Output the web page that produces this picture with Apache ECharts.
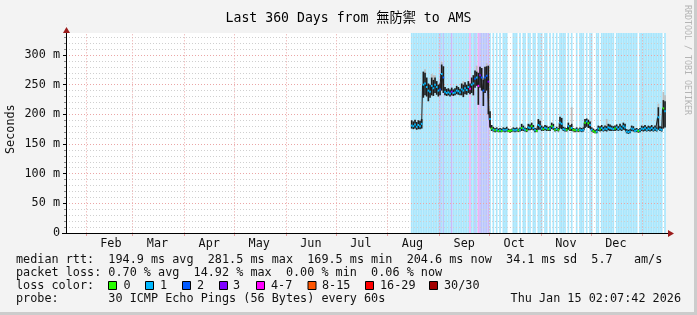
<!DOCTYPE html>
<html><head><meta charset="utf-8">
<script src="https://cdn.jsdelivr.net/npm/echarts@6/dist/echarts.min.js"></script>
<style>html,body{margin:0;padding:0;background:#f3f3f3}#c{width:697px;height:315px}</style>
</head><body><div id="c"></div>
<script>
// ---------- data ----------
const chartTitle = 'Last 360 Days from 無防禦 to AMS';
const rangeStart = [2025, 0, 20, 2, 7, 42];
const rangeEnd = [2026, 0, 15, 2, 7, 42];
const dataStartDay = [2025, 7, 15]; // first day with measurements (Aug 15)
const monthNames = ['Jan','Feb','Mar','Apr','May','Jun','Jul','Aug','Sep','Oct','Nov','Dec'];

// daily median rtt (ms)
const median = [
 181,180,183,179,182,180,184,250,252,246,
 240,238,248,244,250,246,240,242,268,262,
 238,236,237,235,238,236,237,240,239,237,
 242,240,244,241,246,243,250,252,260,262,
 248,266,262,240,262,265,255,192,176,174,
 173,174,172,173,172,174,173,174,172,172,
 173,174,173,174,173,174,177,176,174,173,
 178,177,180,177,173,172,182,180,176,175,
 177,176,175,176,180,178,174,175,174,186,
 184,175,174,174,180,176,177,174,173,174,
 173,174,173,174,186,188,185,182,174,172,
 170,171,176,175,177,174,176,175,178,177,
 176,175,176,178,175,178,176,180,178,171,
 170,171,176,175,172,173,172,173,176,175,
 177,174,176,175,177,174,176,174,195,175,
 174,210,205];
// dense smoke band (ms)
const smokeLo = [
 176,175,176,174,175,175,176,228,232,230,
 222,228,232,231,236,233,230,232,240,236,
 232,231,232,230,232,231,232,234,233,232,
 232,229,234,233,236,234,236,232,245,248,
 216,245,240,214,236,240,200,178,172,171,
 170,171,170,170,170,171,170,171,170,169,
 170,171,170,171,170,171,172,172,171,170,
 173,173,174,173,170,170,174,174,172,172,
 173,172,172,172,175,174,171,172,171,176,
 175,172,171,171,174,172,172,171,170,171,
 170,171,170,171,177,179,177,176,171,169,
 168,168,172,171,172,171,172,171,173,172,
 172,172,172,173,172,173,172,174,173,168,
 167,168,172,171,170,170,169,170,172,171,
 172,171,172,171,172,171,172,171,174,172,
 171,176,178];
const smokeHi = [
 190,188,191,187,190,189,192,272,270,262,
 252,250,262,258,262,256,250,252,284,281,
 246,243,244,242,245,242,244,248,246,243,
 252,250,254,250,256,252,262,266,274,272,
 270,280,278,258,280,281,282,205,182,179,
 177,178,176,177,176,178,177,179,176,175,
 176,178,177,178,176,178,184,181,178,177,
 184,183,186,182,177,176,192,189,181,179,
 182,181,179,180,186,184,177,179,177,196,
 194,179,178,177,186,182,184,177,176,178,
 176,178,177,178,192,193,191,188,178,176,
 174,175,181,180,182,179,181,180,184,183,
 181,180,181,183,180,184,181,186,184,175,
 174,175,181,180,176,177,175,177,181,180,
 182,179,181,180,182,179,181,178,212,180,
 179,224,222];
// loss class per day (index into lossLabels)
const lossClass = [
 1,1,1,1,1,1,1,1,1,1,
 1,1,1,1,1,1,1,2,1,2,
 1,1,1,1,3,1,1,1,1,1,
 1,1,1,1,1,4,1,1,2,1,
 4,3,2,2,2,2,3,1,0,1,
 0,1,0,1,0,1,1,1,0,0,
 0,1,1,1,0,1,0,1,1,0,
 1,1,0,1,1,0,1,1,1,0,
 1,1,0,1,0,1,0,1,0,1,
 1,1,1,0,1,0,1,0,0,1,
 0,1,1,1,0,1,0,1,1,0,
 0,1,1,0,1,1,1,1,1,1,
 1,1,0,1,1,1,1,1,1,1,
 1,1,1,1,1,1,0,1,1,1,
 1,1,1,1,1,1,1,1,1,1,
 1,0,1];
// sparse light smoke spikes: [day index, top ms]
const lightSmoke = [[8,276],[12,268],[13,266],[14,266],[18,288],[31,256],[39,282],[45,286],[96,212],[117,192],[148,218],[151,238],[152,232]];

const lossLabels = ['0','1','2','3','4-7','8-15','16-29','30/30'];
const lossColors = ['#26ff00','#00b8ff','#0059ff','#7e00ff','#ff00ff','#ff5500','#ff0000','#a10000'];
const lossBgColors = ['#ffffff','#aae6fc','#b9c6fb','#cbb8fa','#f2b0f4','#ffc8aa','#ffaaaa','#e0aaaa'];

const statsLine = 'median rtt:  194.9 ms avg  281.5 ms max  169.5 ms min  204.6 ms now  34.1 ms sd  5.7   am/s';
const lossLine = 'packet loss: 0.70 % avg  14.92 % max  0.00 % min  0.06 % now';
const probeLine = 'probe:       30 ICMP Echo Pings (56 Bytes) every 60s';
const stampText = 'Thu Jan 15 02:07:42 2026';

// ---------- build ----------
const FONT = "'DejaVu Sans Mono', 'Noto Sans CJK TC', monospace";
const tMin = new Date(...rangeStart).getTime();
const tMax = new Date(...rangeEnd).getTime();
function dayStart(i) { return new Date(dataStartDay[0], dataStartDay[1], dataStartDay[2] + i).getTime(); }

const dayItems = median.map((m, i) => [dayStart(i), dayStart(i + 1), smokeLo[i], smokeHi[i], m, lossClass[i]]);
const lightItems = lightSmoke.map(([i, top]) => [dayStart(i), dayStart(i + 1), smokeHi[i], top]);
const medianLine = median.map((m, i) => [(dayStart(i) + dayStart(i + 1)) / 2, m]);

function clipRect(params, api, t0, t1, v0, v1) {
  const a = api.coord([t0, v0]), b = api.coord([t1, v1]);
  const cs = params.coordSys;
  return echarts.graphic.clipRectByRect(
    { x: a[0], y: Math.min(a[1], b[1]), width: b[0] - a[0], height: Math.abs(a[1] - b[1]) },
    { x: cs.x, y: cs.y, width: cs.width, height: cs.height });
}

const chart = echarts.init(document.getElementById('c'), null, { renderer: 'canvas' });

const legendGraphics = [];
const textStyleBase = { font: '11.8px ' + FONT, fill: '#111', textVerticalAlign: 'middle' };
legendGraphics.push({ type: 'text', x: 16, y: 259.5, style: Object.assign({ text: statsLine }, textStyleBase) });
legendGraphics.push({ type: 'text', x: 16, y: 272.5, style: Object.assign({ text: lossLine }, textStyleBase) });
legendGraphics.push({ type: 'text', x: 16, y: 286, style: Object.assign({ text: 'loss color:' }, textStyleBase) });
legendGraphics.push({ type: 'text', x: 16, y: 299, style: Object.assign({ text: probeLine }, textStyleBase) });
legendGraphics.push({ type: 'text', x: 681, y: 299, style: Object.assign({ text: stampText, textAlign: 'right' }, textStyleBase) });
const boxX = [108, 145, 182, 219, 256, 307.5, 365, 429];
const labX = [123.5, 160, 197, 233, 271, 322, 380, 444];
lossLabels.forEach((lab, i) => {
  legendGraphics.push({ type: 'rect', shape: { x: boxX[i] + 0.5, y: 281.5, width: 8, height: 8 }, style: { fill: lossColors[i], stroke: '#000', lineWidth: 1 } });
  legendGraphics.push({ type: 'text', x: labX[i], y: 286, style: Object.assign({ text: lab }, textStyleBase) });
});

const option = {
  animation: false,
  backgroundColor: '#f3f3f3',
  title: { text: chartTitle, left: 'center', top: 7, textStyle: { fontFamily: FONT, fontSize: 13.2, fontWeight: 'normal', color: '#000' } },
  grid: { left: 66, right: 31, top: 25.33, bottom: 82, containLabel: false, outerBoundsMode: 'none' },
  xAxis: {
    type: 'time', min: tMin, max: tMax, splitNumber: 12,
    minInterval: 28 * 864e5, maxInterval: 31 * 864e5,
    axisLine: { lineStyle: { color: '#000', width: 1 } },
    axisTick: { show: true, length: 3, lineStyle: { color: '#e8a0a0' } },
    splitLine: { show: true, showMinLine: false, showMaxLine: false, lineStyle: { color: '#eba6a6', type: [1, 2], width: 1 } },
    axisLabel: {
      margin: 5, fontFamily: FONT, fontSize: 11.8, color: '#111', align: 'center', padding: [0, 0, 0, 50],
      showMinLabel: false, showMaxLabel: false, hideOverlap: false,
      formatter: function (v) { const d = new Date(v); if (d.getDate() !== 1 || d.getHours() !== 0) return ''; const m = d.getMonth(); return m === 0 ? '' : monthNames[m]; }
    }
  },
  yAxis: {
    type: 'value', min: 0, max: 350, interval: 50,
    name: 'Seconds', nameLocation: 'middle', nameRotate: 90, nameGap: 49, nameMoveOverlap: false,
    nameTextStyle: { fontFamily: FONT, fontSize: 11.8, color: '#111' },
    axisLine: { show: true, lineStyle: { color: '#000' } },
    axisTick: { show: true, length: 3, lineStyle: { color: '#000' } },
    minorTick: { show: true, splitNumber: 5, length: 2, lineStyle: { color: '#888' } },
    splitLine: { show: true, lineStyle: { color: '#eba6a6', type: [1, 2] } },
    minorSplitLine: { show: true, lineStyle: { color: '#cfcfcf', type: [1, 2] } },
    axisLabel: { margin: 6, fontFamily: FONT, fontSize: 11.8, color: '#111', showMaxLabel: false,
      formatter: v => v === 0 ? '0' : v + ' m' }
  },
  series: [
    { type: 'custom', name: 'lossbg', z: -5, silent: true, data: dayItems,
      renderItem: function (params, api) {
        const c = api.value(5);
        if (!c) return null;
        const r = clipRect(params, api, api.value(0), api.value(1), 0, 350);
        return r && { type: 'rect', shape: r, style: { fill: lossBgColors[c] } };
      } },
    { type: 'custom', name: 'lightsmoke', z: 3, silent: true, data: lightItems,
      renderItem: function (params, api) {
        const r = clipRect(params, api, api.value(0), api.value(1), api.value(2), api.value(3));
        return r && { type: 'rect', shape: r, style: { fill: '#bdbdbd' } };
      } },
    { type: 'custom', name: 'smoke', z: 4, silent: true, data: dayItems,
      renderItem: function (params, api) {
        const r = clipRect(params, api, api.value(0), api.value(1), api.value(2), api.value(3));
        return r && { type: 'rect', shape: r, style: { fill: '#1c1c1c' } };
      } },
    { type: 'line', name: 'median', z: 5, silent: true, data: medianLine, step: 'middle', showSymbol: false,
      lineStyle: { color: '#1c1c1c', width: 1 } },
    { type: 'custom', name: 'mediancolor', z: 6, silent: true, data: dayItems,
      renderItem: function (params, api) {
        const a = api.coord([api.value(0), api.value(4)]), b = api.coord([api.value(1), api.value(4)]);
        const cs = params.coordSys;
        const r = echarts.graphic.clipRectByRect({ x: a[0], y: a[1] - 1, width: b[0] - a[0], height: 2 },
          { x: cs.x, y: cs.y, width: cs.width, height: cs.height });
        return r && { type: 'rect', shape: r, style: { fill: lossColors[api.value(5)] } };
      } }
  ],
  graphic: [
    { type: 'rect', z: -10, silent: true, shape: { x: 66, y: 33, width: 600, height: 200 }, style: { fill: '#ffffff' } },
    { type: 'rect', z: 50, silent: true, shape: { x: 60, y: 25, width: 615, height: 8 }, style: { fill: '#f3f3f3' } },
    { type: 'line', z: 51, silent: true, shape: { x1: 66.5, y1: 33, x2: 66.5, y2: 30 }, style: { stroke: '#000', lineWidth: 1 } },
    { type: 'polygon', z: 52, silent: true, shape: { points: [[63, 33], [70, 33], [66.5, 27]] }, style: { fill: '#9b1c1c' } },
    { type: 'line', z: 51, silent: true, shape: { x1: 62, y1: 233.5, x2: 669, y2: 233.5 }, style: { stroke: '#000', lineWidth: 1 } },
    { type: 'polygon', z: 52, silent: true, shape: { points: [[668, 230], [668, 237], [674, 233.5]] }, style: { fill: '#9b1c1c' } },
    { type: 'text', z: 52, silent: true, x: 691, y: 5, rotation: -Math.PI / 2,
      style: { text: 'RRDTOOL / TOBI OETIKER', font: '8.3px ' + FONT, fill: '#b4b4b4', textVerticalAlign: 'top' } },
    { type: 'rect', z: 52, silent: true, shape: { x: 694, y: 0, width: 3, height: 315 }, style: { fill: '#cccccc' } },
    { type: 'rect', z: 52, silent: true, shape: { x: 0, y: 312, width: 697, height: 3 }, style: { fill: '#cccccc' } }
  ].concat(legendGraphics.map(g => Object.assign({ z: 52, silent: true }, g)))
};
chart.setOption(option);
</script></body></html>
